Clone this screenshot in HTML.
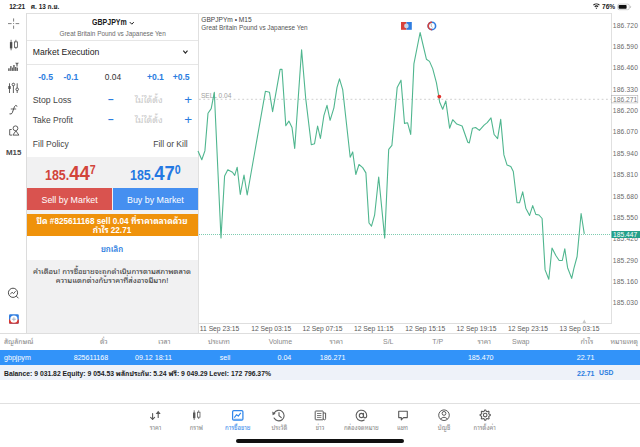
<!DOCTYPE html>
<html><head><meta charset="utf-8">
<style>
*{margin:0;padding:0;box-sizing:border-box}
html,body{width:640px;height:447px;overflow:hidden;background:#fff}
body{position:relative;font-family:"Liberation Sans","Noto Sans Thai Looped","Noto Sans Thai","IBM Plex Sans Thai Looped","Noto Sans CJK SC",sans-serif;color:#222}
.a{position:absolute;white-space:nowrap;line-height:1}
.blue{color:#2b7de0}
.gray{color:#8a8a8a}
#panel{position:absolute;left:26px;top:13px;width:171px;height:320px;background:#fff;border-left:1px solid #ddd;border-top:1px solid #e4e4e4}
.sep{position:absolute;height:1px;background:#e6e6e6}
.tab{width:40px;text-align:center;top:424.6px;font-size:6px;color:#888}
</style></head><body>

<!-- status bar -->
<div class="a" style="left:9.2px;top:4.2px;font-size:6.5px;font-weight:bold;color:#222;letter-spacing:-0.2px">12:21</div>
<div class="a" style="left:30.8px;top:3.6px;font-size:6.4px;font-weight:bold;color:#222">ศ. 13 ก.ย.</div>
<div class="a" style="left:602px;top:3.6px;font-size:6.6px;font-weight:bold;color:#222">76%</div>

<!-- gray panel background (order panel area) -->
<div style="position:absolute;left:26px;top:13px;width:172px;height:320px;background:#f1f1f2;border-left:1px solid #dcdcdc"></div>
<!-- white blocks -->
<div style="position:absolute;left:27px;top:13px;width:171px;height:144px;background:#fff;border-top:1px solid #e0e0e0"></div>
<div class="sep" style="left:27px;top:40px;width:171px"></div>
<div class="sep" style="left:27px;top:64px;width:171px"></div>

<div class="a" style="left:91.6px;top:18.3px;font-size:9.2px;font-weight:bold;color:#1a1a1a;transform:scaleX(0.765);transform-origin:0 0">GBPJPYm</div>
<div class="a" style="left:59.5px;top:30.7px;font-size:6.4px;color:#6a6a6a">Great Britain Pound vs Japanese Yen</div>
<div class="a" style="left:32.8px;top:48px;font-size:8.6px;color:#222">Market Execution</div>

<div class="a blue" style="left:38.2px;top:72.9px;font-size:8.6px;font-weight:bold">-0.5</div>
<div class="a blue" style="left:63.5px;top:72.9px;font-size:8.6px;font-weight:bold">-0.1</div>
<div class="a" style="left:104.8px;top:72.9px;font-size:8.4px;color:#333">0.04</div>
<div class="a blue" style="left:146.9px;top:72.9px;font-size:8.6px;font-weight:bold">+0.1</div>
<div class="a blue" style="left:172.7px;top:72.9px;font-size:8.6px;font-weight:bold">+0.5</div>

<div class="a" style="left:32.8px;top:96px;font-size:8.7px;color:#444">Stop Loss</div>
<div class="a" style="left:32.8px;top:116.2px;font-size:8.5px;color:#444">Take Profit</div>

<div class="a blue" style="left:108px;top:95px;font-size:10px;font-weight:bold">–</div>
<div class="a" style="left:134.7px;top:95.6px;font-size:8.9px;color:#c8c8c8">ไม่ได้ตั้ง</div>
<div class="a blue" style="left:184.2px;top:92.6px;font-size:13.5px">+</div>
<div class="a blue" style="left:108px;top:115px;font-size:10px;font-weight:bold">–</div>
<div class="a" style="left:134.7px;top:115.6px;font-size:8.9px;color:#c8c8c8">ไม่ได้ตั้ง</div>
<div class="a blue" style="left:184.2px;top:112.9px;font-size:13.5px">+</div>
<div class="a" style="left:32.8px;top:140px;font-size:8.5px;color:#444">Fill Policy</div>
<div class="a" style="left:153.2px;top:140px;font-size:8.5px;color:#444">Fill or Kill</div>

<!-- prices -->
<div class="a" style="left:45px;top:162px;color:#d2443a;font-size:14.1px;height:20px;font-weight:bold;transform:scaleX(0.88);transform-origin:0 0">185.<span style="font-size:21px">44</span><span style="font-size:12.1px;position:relative;top:-5.6px">7</span></div>
<div class="a" style="left:130.1px;top:162px;color:#2478e2;font-size:14.1px;height:20px;font-weight:bold;transform:scaleX(0.88);transform-origin:0 0">185.<span style="font-size:21px">47</span><span style="font-size:12.1px;position:relative;top:-5.6px">0</span></div>

<!-- buttons -->
<div style="position:absolute;left:27px;top:188px;width:85px;height:22.2px;background:#d9534f"></div>
<div style="position:absolute;left:113px;top:188px;width:85px;height:22.2px;background:#458ff0"></div>
<div class="a" style="left:41.5px;top:195.5px;font-size:8.9px;color:#fff">Sell by Market</div>
<div class="a" style="left:127px;top:195.5px;font-size:8.9px;color:#fff">Buy by Market</div>

<div style="position:absolute;left:27px;top:213.5px;width:171px;height:22px;background:#ef920b"></div>
<div class="a" style="left:27px;width:170px;text-align:center;top:217.5px;font-size:8.2px;font-weight:bold;color:#fff">ปิด #825611168 sell 0.04 ที่ราคาตลาดด้วย</div>
<div class="a" style="left:27px;width:170px;text-align:center;top:226.5px;font-size:8.2px;font-weight:bold;color:#fff">กำไร 22.71</div>

<div style="position:absolute;left:27px;top:236px;width:171px;height:24px;background:#fff"></div>
<div class="a blue" style="left:27px;width:170px;text-align:center;top:245.8px;font-size:7.8px;font-weight:600">ยกเลิก</div>

<div class="a" style="left:27px;width:170px;text-align:center;top:268px;font-size:7.7px;color:#333">คำเตือน! การซื้อขายจะถูกดำเนินการตามสภาพตลาด</div>
<div class="a" style="left:27px;width:170px;text-align:center;top:276.6px;font-size:7.7px;color:#333">ความแตกต่างกับราคาที่ส่งอาจมีมาก!</div>

<!-- table -->
<div class="sep" style="left:0;top:333px;width:640px;background:#dedede"></div>
<div style="position:absolute;left:0;top:349.5px;width:640px;height:15.3px;background:#3293f9"></div>
<div style="position:absolute;left:0;top:365px;width:640px;height:15.3px;background:#eef2f9"></div>

<div class="a gray" style="left:4px;top:337.5px;font-size:7px">สัญลักษณ์</div>
<div class="a gray" style="left:100px;top:337.5px;font-size:7px">ตั๋ว</div>
<div class="a gray" style="left:158px;top:337.5px;font-size:7px">เวลา</div>
<div class="a gray" style="left:208px;top:337.5px;font-size:7px">ประเภท</div>
<div class="a gray" style="left:268.7px;top:337.5px;font-size:7px">Volume</div>
<div class="a gray" style="left:329.5px;top:337.5px;font-size:7px">ราคา</div>
<div class="a gray" style="left:383px;top:337.5px;font-size:7px">S/L</div>
<div class="a gray" style="left:432.2px;top:337.5px;font-size:7px">T/P</div>
<div class="a gray" style="left:477.4px;top:337.5px;font-size:7px">ราคา</div>
<div class="a gray" style="left:512px;top:337.5px;font-size:7px">Swap</div>
<div class="a gray" style="left:580.4px;top:337.5px;font-size:7px">กำไร</div>
<div class="a gray" style="left:610.4px;top:337.5px;font-size:7px">หมายเหตุ</div>

<div class="a" style="left:4px;top:355.1px;font-size:7.1px;color:#fff">gbpjpym</div>
<div class="a" style="left:73.7px;top:355.1px;font-size:7.1px;color:#fff">825611168</div>
<div class="a" style="left:135px;top:355.1px;font-size:7.1px;color:#fff">09.12 18:11</div>
<div class="a" style="left:219.7px;top:355.1px;font-size:7.1px;color:#fff">sell</div>
<div class="a" style="left:277.5px;top:355.1px;font-size:7.1px;color:#fff">0.04</div>
<div class="a" style="left:319.7px;top:355.1px;font-size:7.1px;color:#fff">186.271</div>
<div class="a" style="left:467.9px;top:355.1px;font-size:7.1px;color:#fff">185.470</div>
<div class="a" style="left:576.7px;top:355.1px;font-size:7.1px;color:#fff">22.71</div>

<div class="a" style="left:4px;top:371.2px;font-size:6.8px;font-weight:bold;color:#222">Balance: 9 031.82 Equity: 9 054.53 พลักประกัน: 5.24 ฟรี: 9 049.29 Level: 172 796.37%</div>
<div class="a" style="left:577px;top:370.2px;font-size:7px;font-weight:bold;color:#2b7de0">22.71</div>
<div class="a" style="left:599px;top:370.3px;font-size:6.8px;font-weight:bold;color:#2b7de0">USD</div>

<svg style="position:absolute;left:0;top:0" width="640" height="447" viewBox="0 0 640 447" font-family="Liberation Sans, sans-serif">
<line x1="198.5" y1="13" x2="198.5" y2="333" stroke="#e0e0e0" stroke-width="1"/>
<line x1="198" y1="13.5" x2="612" y2="13.5" stroke="#e4e4e4" stroke-width="1"/>
<line x1="611.5" y1="13" x2="611.5" y2="324" stroke="#e0e0e0" stroke-width="1"/>
<line x1="198" y1="323.5" x2="612" y2="323.5" stroke="#dedede" stroke-width="1"/>
<text x="612.8" y="27.5" font-size="6.7" fill="#6a6a6a" letter-spacing="0.15">186.720</text>
<text x="612.8" y="48.9" font-size="6.7" fill="#6a6a6a" letter-spacing="0.15">186.590</text>
<text x="612.8" y="70.3" font-size="6.7" fill="#6a6a6a" letter-spacing="0.15">186.460</text>
<text x="612.8" y="91.6" font-size="6.7" fill="#6a6a6a" letter-spacing="0.15">186.330</text>
<text x="612.8" y="113.0" font-size="6.7" fill="#6a6a6a" letter-spacing="0.15">186.200</text>
<text x="612.8" y="134.4" font-size="6.7" fill="#6a6a6a" letter-spacing="0.15">186.070</text>
<text x="612.8" y="155.7" font-size="6.7" fill="#6a6a6a" letter-spacing="0.15">185.940</text>
<text x="612.8" y="177.1" font-size="6.7" fill="#6a6a6a" letter-spacing="0.15">185.810</text>
<text x="612.8" y="198.5" font-size="6.7" fill="#6a6a6a" letter-spacing="0.15">185.680</text>
<text x="612.8" y="219.8" font-size="6.7" fill="#6a6a6a" letter-spacing="0.15">185.550</text>
<text x="612.8" y="241.2" font-size="6.7" fill="#6a6a6a" letter-spacing="0.15">185.420</text>
<text x="612.8" y="262.6" font-size="6.7" fill="#6a6a6a" letter-spacing="0.15">185.290</text>
<text x="612.8" y="283.9" font-size="6.7" fill="#6a6a6a" letter-spacing="0.15">185.160</text>
<text x="612.8" y="305.3" font-size="6.7" fill="#6a6a6a" letter-spacing="0.15">185.030</text>
<text x="199.8" y="330.9" font-size="6.72" fill="#5a5a5a">11 Sep 23:15</text>
<text x="251.2" y="330.9" font-size="6.72" fill="#5a5a5a">12 Sep 03:15</text>
<text x="302.5" y="330.9" font-size="6.72" fill="#5a5a5a">12 Sep 07:15</text>
<text x="353.9" y="330.9" font-size="6.72" fill="#5a5a5a">12 Sep 11:15</text>
<text x="405.3" y="330.9" font-size="6.72" fill="#5a5a5a">12 Sep 15:15</text>
<text x="456.6" y="330.9" font-size="6.72" fill="#5a5a5a">12 Sep 19:15</text>
<text x="508.0" y="330.9" font-size="6.72" fill="#5a5a5a">12 Sep 23:15</text>
<text x="559.4" y="330.9" font-size="6.72" fill="#5a5a5a">13 Sep 03:15</text>
<line x1="199" y1="99.3" x2="611" y2="99.3" stroke="#c2c2c2" stroke-width="0.8" stroke-dasharray="1.8 2.53"/>
<text x="200.9" y="97.6" font-size="6.6" fill="#a0a0a0">SELL 0.04</text>
<line x1="199" y1="234.5" x2="611" y2="234.5" stroke="#5cbf9c" stroke-width="0.8" stroke-dasharray="1 1"/>
<polyline points="198,151 201.8,159.7 204.9,150.9 208,113.3 211.2,108.6 214.3,92.3 221,238 224.6,176 227.8,169.7 232.5,172.2 234.7,175.4 237.2,167.2 240.3,194.5 244,175 247.2,195 265.4,91.3 269.5,92.3 272.6,111.7 280.1,69.4 282,69.4 285.8,125.8 288.9,121.1 292,127.4 294.7,148.5 301.6,49.8 305.7,98.4 311.3,144.8 314.5,143.8 317.6,126 320.4,138.5 323.9,115.6 327,105.3 330.1,120.3 333.9,107.8 337,87.4 339.5,78.9 342.7,89.6 350.2,157.2 352.7,151.9 355.8,174.5 359,164.5 362.7,167.6 365.9,172.9 369,223 371.5,226.2 374.6,215.2 378.7,177 384.7,238.1 388.7,149.4 391.9,145.4 397.2,87.4 401,80.2 404.5,123.4 407.6,122.8 410.7,134.4 413.9,63.9 420.1,32.5 426.4,59.2 429.5,61.4 432.7,68.6 436.4,82.7 438.9,96.8 439.6,102 442.7,109.3 445.8,100.9 449.6,128.2 452.7,119.7 456.8,124.1 462.1,126 467.8,142.3 469.3,142.9 472.5,128.2 475.6,127.5 479.4,130.4 484.1,125.1 487.2,122.6 491,117.9 494.1,134.5 497.6,138.6 500.7,119.4 503.9,154.9 507,164.9 510.8,166.5 513.3,171.5 517,202.8 519.5,202.8 522.7,191.8 525.8,208.2 529.6,215.4 532.7,205.6 535.8,214.4 539,215 542.1,218.5 545.1,269.9 548.8,279.3 552,248 556,255.8 559.2,260.5 562.3,260.5 564.8,248.9 567.6,267.7 571.7,278.4 573.9,268.4 577.1,256.5 581.1,213.5 584.3,233.9" fill="none" stroke="#50b68f" stroke-width="1.1" stroke-linejoin="round"/>
<circle cx="439.3" cy="96.6" r="1.9" fill="#e0302a"/>
<rect x="611.5" y="95.5" width="26.3" height="7.4" fill="#fff" stroke="#b0b0b0" stroke-width="0.6"/>
<text x="613" y="101.5" font-size="6.7" fill="#777">186.271</text>
<rect x="611.5" y="231" width="28.5" height="7" fill="#23a08a"/>
<text x="613" y="236.9" font-size="6.7" fill="#fff">185.447</text>
<path d="M582.5 323 L584.3 319.5 L586.1 323 Z" fill="#c8c8c8"/>
<text x="201.3" y="21.7" font-size="6.6" fill="#444">GBPJPYm • M15</text>
<text x="201.3" y="29.7" font-size="6.4" fill="#555">Great Britain Pound vs Japanese Yen</text>
<rect x="401" y="22" width="5.5" height="7.8" fill="#d8413a"/><rect x="406.5" y="22" width="5.3" height="7.8" fill="#2f7de0"/><circle cx="406.4" cy="25.9" r="2.3" fill="#c9d6e6"/>
<circle cx="431.9" cy="25.9" r="3.7" fill="#fff" stroke="#2f7de0" stroke-width="1.6"/><path d="M431.9 22.2 A3.7 3.7 0 0 0 431.9 29.6" fill="none" stroke="#d8413a" stroke-width="1.6"/><path d="M431.3 23.8 L431.3 26.3 L432.6 27.4" fill="none" stroke="#999" stroke-width="0.7"/>
<path d="M129.8 22.1L131.8 24.2L133.8 22.1" fill="none" stroke="#222" stroke-width="1"/>
<path d="M183.3 50.7L185.4 53.2L187.5 50.7" fill="none" stroke="#222" stroke-width="1.1"/>
<g stroke="#6a6a6a" stroke-width="0.85" fill="none"><path d="M8 23.6H11.6M15.6 23.6H19.2M13.6 18.4V21.6M13.6 25.6V28.8"/></g><circle cx="13.6" cy="23.6" r="0.5" fill="#6a6a6a"/>
<g stroke="#4e4e4e" stroke-width="0.8" fill="none"><path d="M11.1 39.8V50.3M15.9 39.8V48.9"/></g><rect x="9.9" y="42.1" width="2.4" height="6.3" fill="#4e4e4e"/><rect x="14.4" y="41.9" width="3" height="5.4" fill="#fff" stroke="#4e4e4e" stroke-width="0.8"/>
<g fill="#666"><rect x="8.1" y="68.3" width="1.6" height="2.6"/><rect x="10.1" y="66.1" width="1.5" height="4.8"/><rect x="12" y="67.6" width="1" height="3.3"/><rect x="13.2" y="65" width="1.5" height="5.9"/><rect x="15" y="67" width="1.4" height="3.9"/><rect x="16.6" y="67.6" width="1.4" height="3.3"/></g><path d="M15.1 62.7H18.9L17.6 64.4V66.6H16.4V64.4Z" fill="#666"/>
<g stroke="#4e4e4e" stroke-width="0.9" fill="none"><path d="M9.5 83.3V93M13.4 83.3V93M17.2 83.3V93"/></g><rect x="8.3" y="86" width="2.4" height="3" rx="0.6" fill="#4e4e4e"/><circle cx="13.4" cy="84.5" r="1.3" fill="#fff" stroke="#4e4e4e" stroke-width="0.9"/><circle cx="17.2" cy="89.3" r="1.3" fill="#fff" stroke="#4e4e4e" stroke-width="0.9"/>
<g stroke="#4e4e4e" stroke-width="1" fill="none" stroke-linecap="round"><path d="M17 106Q15.5 104.6 14.5 106.5L12.3 112.7Q11.6 114.6 9.9 114"/><path d="M11.2 109H15.8" stroke-width="0.85"/></g>
<g stroke="#4e4e4e" stroke-width="0.9" fill="none"><path d="M11.7 129.5H9.7V135.1H12"/><circle cx="15.5" cy="128.3" r="2.4"/><path d="M12.9 135.1L15.9 130.8L18.9 135.1Z"/></g>
<text x="6" y="155" font-family="Liberation Sans, sans-serif" font-weight="bold" font-size="7.9" fill="#4a4a4a">M15</text>
<g stroke="#4e4e4e" stroke-width="1" fill="none"><circle cx="13" cy="292.8" r="4.6"/><path d="M16.3 296.1L18.5 298.3"/><path d="M10.3 294.3L12 292.2L13.6 293.6L15.6 291.2" stroke-width="0.9"/></g>
<rect x="9" y="314.2" width="9.8" height="9.6" rx="1.3" fill="#2f7de0"/><path d="M9 319.6H18.8V322.5A1.3 1.3 0 0 1 17.5 323.8H10.3A1.3 1.3 0 0 1 9 322.5Z" fill="#d9362f"/><circle cx="13.9" cy="319.2" r="3.6" fill="#fff"/><path d="M13.9 317.2V321.2M11.9 319.2H15.9" stroke="#9aa8b8" stroke-width="0.8"/>
<path d="M593.4 5.2A4.3 4.3 0 0 1 599.4 5.2" stroke="#111" stroke-width="1.1" fill="none"/><path d="M594.7 6.6A2.5 2.5 0 0 1 598.1 6.6" stroke="#111" stroke-width="1.1" fill="none"/><path d="M595.4 7.8L596.4 9L597.4 7.8Z" fill="#111"/>
<rect x="617.7" y="4.1" width="11.6" height="5.6" rx="1.6" fill="none" stroke="#bbb" stroke-width="0.7"/><rect x="618.6" y="5" width="8" height="3.8" rx="0.8" fill="#111"/><path d="M630.2 5.8Q631.4 6.9 630.2 8" stroke="#bbb" stroke-width="0.8" fill="none"/>
<g stroke="#5a5a5a" stroke-width="1.1" fill="none" stroke-linecap="round" stroke-linejoin="round"><path d="M152.6 413.6V419.4M150.6 417.4L152.6 419.4L154.6 417.4"/><path d="M158.2 417.4V412.4"/></g><path d="M155.7 413.9L158.2 410.7L160.7 413.9Z" fill="#5a5a5a"/>
<g stroke="#5a5a5a" stroke-width="0.8" fill="none"><path d="M194.2 410.3V420M198.7 410.3V419"/></g><rect x="193" y="412.5" width="2.4" height="5.7" fill="#5a5a5a"/><rect x="197.4" y="412.2" width="2.6" height="5" fill="#fff" stroke="#5a5a5a" stroke-width="0.8"/>
<rect x="232.6" y="410.5" width="10.3" height="9.6" rx="1.2" fill="none" stroke="#2f86ea" stroke-width="1.25"/><path d="M234.3 417.6L236.6 414.6L238.3 416.2L240.8 412.8" fill="none" stroke="#2f86ea" stroke-width="1.1" stroke-linejoin="round"/><path d="M233.5 419.2H241.8" stroke="#2f86ea" stroke-width="0.6"/>
<g stroke="#5a5a5a" stroke-width="1.1" fill="none" stroke-linecap="round"><path d="M274.2 413A5.3 5.3 0 1 1 274.1 418"/><path d="M279 412.5V415.7L281.3 417.6"/></g><path d="M272.3 411.6L275.6 413.8L272.6 415.3Z" fill="#5a5a5a"/>
<g stroke="#5a5a5a" stroke-width="1" fill="none"><rect x="315.2" y="411" width="8" height="8.8" rx="0.6"/><path d="M323.2 413H325.6V418.6A1.2 1.2 0 0 1 323.2 418.6"/><path d="M317 413.5H321.4M317 415.5H321.4M317 417.4H321.4" stroke-width="0.8"/></g>
<g stroke="#5a5a5a" stroke-width="1.1" fill="none" stroke-linecap="round"><circle cx="361.4" cy="415.5" r="2.1"/><path d="M363.5 413.3V416.2Q363.5 417.9 365 417.9Q366.7 417.9 366.7 415.5A5.3 5.3 0 1 0 364.2 420"/></g>
<path d="M398.7 411.2H407.3V417.6H403.5L401.3 419.8V417.6H398.7Z" fill="none" stroke="#5a5a5a" stroke-width="1.1" stroke-linejoin="round"/>
<g stroke="#5a5a5a" stroke-width="1" fill="none"><circle cx="444" cy="415.2" r="5.3"/><circle cx="444" cy="413.4" r="1.9"/><path d="M440.4 419.2Q444 415.3 447.6 419.2"/></g>
<polygon points="490.27,414.59 490.28,415.59 488.93,416.23 488.64,416.93 489.15,418.33 488.44,419.04 487.04,418.54 486.34,418.83 485.71,420.17 484.71,420.18 484.07,418.83 483.37,418.54 481.97,419.05 481.26,418.34 481.76,416.94 481.47,416.24 480.13,415.61 480.12,414.61 481.47,413.97 481.76,413.27 481.25,411.87 481.96,411.16 483.36,411.66 484.06,411.37 484.69,410.03 485.69,410.02 486.33,411.37 487.03,411.66 488.43,411.15 489.14,411.86 488.64,413.26 488.93,413.96" fill="none" stroke="#5a5a5a" stroke-width="1.1" stroke-linejoin="round"/><circle cx="485.2" cy="415.1" r="1.8" fill="none" stroke="#5a5a5a" stroke-width="1.1"/>
</svg>
<!-- tab bar -->
<div class="sep" style="left:0;top:403px;width:640px;background:#e0e0e0"></div>
<div class="a tab" style="left:135.6px">ราคา</div>
<div class="a tab" style="left:176.3px">กราฟ</div>
<div class="a tab" style="left:217.8px;color:#2f86ea">การซื้อขาย</div>
<div class="a tab" style="left:259.4px">ประวัติ</div>
<div class="a tab" style="left:300px">ข่าว</div>
<div class="a tab" style="left:341.3px">กล่องจดหมาย</div>
<div class="a tab" style="left:382.5px">แชท</div>
<div class="a tab" style="left:424px">บัญชี</div>
<div class="a tab" style="left:464.7px">การตั้งค่า</div>
<div style="position:absolute;left:236px;top:438.5px;width:168px;height:4px;border-radius:2px;background:#111"></div>

</body></html>
